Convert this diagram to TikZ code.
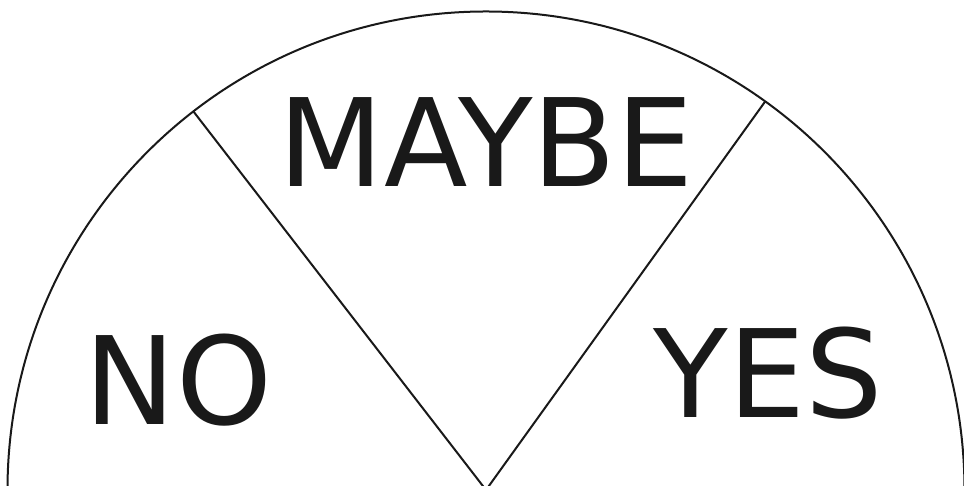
\documentclass[tikz,border=0pt]{standalone}
\usepackage{fontspec}
\setmainfont{DejaVu Sans}
\usetikzlibrary{calc}
\begin{document}
\begin{tikzpicture}[x=1pt,y=1pt,
  edge/.style={line width=2pt, draw=black!90},
  lbl/.style={inner sep=0pt, anchor=base, font=\fontsize{122}{122}\selectfont, text=black!90}]
\useasboundingbox (0,0) rectangle (964,486);
\clip (0,0) rectangle (964,486);
\coordinate (c) at (486,-4);
\coordinate (pl) at ($(c)+(127.7:478.5)$);
\coordinate (pr) at ($(c)+(54.3:478.5)$);
\draw[edge] (c) circle[radius=478.5];
\draw[edge] (c) -- (pl);
\draw[edge] (c) -- (pr);
\node[lbl] (maybe) at (486,299) {MAYBE};
\node[lbl] (no) at (178.5,61) {NO};
\node[lbl] (yes) at (768,68) {YES};
\end{tikzpicture}
\end{document}
